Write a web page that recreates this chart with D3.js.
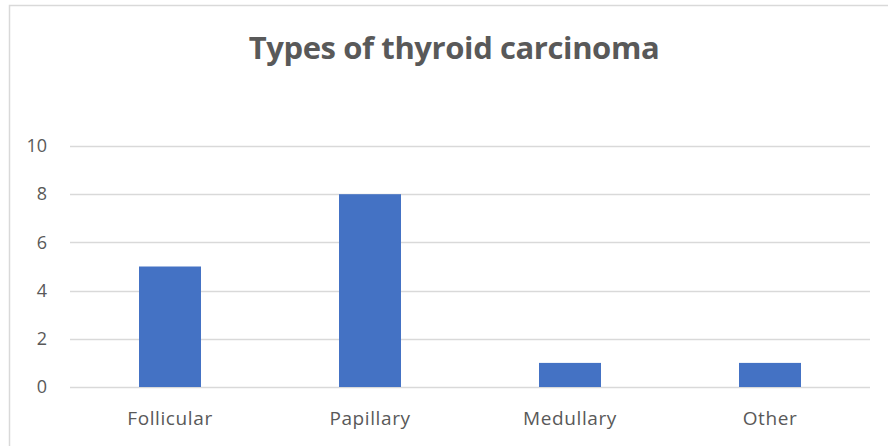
<!DOCTYPE html>
<html>
<head>
<meta charset="utf-8">
<script src="https://cdn.jsdelivr.net/npm/d3@7"></script>
<style>
  body { margin: 0; background: #fff; }
  svg { display: block; }
</style>
</head>
<body>
<div id="chart"></div>
<script>
var categories = ["Follicular", "Papillary", "Medullary", "Other"];
var counts = [5, 8, 1, 1];
var yTicks = [0, 2, 4, 6, 8, 10];
var title = "Types of thyroid carcinoma";

function init() {
    var w = 888;
    var h = 446;
    var font = "'Open Sans', 'Noto Sans', sans-serif";
    var textColor = "#595959";

    var svg = d3.select("#chart")
        .append("svg")
        .attr("width", w)
        .attr("height", h);

    svg.append("rect")
        .attr("width", w)
        .attr("height", h)
        .attr("fill", "#fff");

    // chart border (runs off the right and bottom edges)
    svg.append("rect")
        .attr("x", 9.5)
        .attr("y", 5.5)
        .attr("width", w + 10)
        .attr("height", h + 10)
        .attr("fill", "none")
        .attr("stroke", "#d9d9d9")
        .attr("stroke-width", 1.5);

    var xScale = d3.scaleBand()
        .domain(categories)
        .range([70, 870])
        .paddingInner(0.69)
        .paddingOuter(0.345);

    var yScale = d3.scaleLinear()
        .domain([0, 10])
        .range([387, 146]);

    // gridlines
    svg.append("g")
        .selectAll("line")
        .data(yTicks)
        .enter()
        .append("line")
        .attr("x1", 70)
        .attr("x2", 870)
        .attr("y1", function(d) { return Math.round(yScale(d)) + 0.5; })
        .attr("y2", function(d) { return Math.round(yScale(d)) + 0.5; })
        .attr("stroke", "#d9d9d9")
        .attr("stroke-width", 1.5);

    // bars
    svg.append("g")
        .selectAll("rect")
        .data(counts)
        .enter()
        .append("rect")
        .attr("x", function(d, i) { return xScale(categories[i]); })
        .attr("y", function(d) { return yScale(d); })
        .attr("width", xScale.bandwidth())
        .attr("height", function(d) { return yScale(0) - yScale(d); })
        .attr("fill", "#4472c4");

    // y axis labels
    var yAxis = d3.axisLeft(yScale)
        .tickValues(yTicks)
        .tickSize(0)
        .tickPadding(0);

    var yg = svg.append("g")
        .attr("transform", "translate(47,0)")
        .call(yAxis);
    yg.select(".domain").remove();
    yg.selectAll("text")
        .attr("fill", textColor)
        .style("font-family", font)
        .style("font-size", "18px");

    // x axis labels
    var xAxis = d3.axisBottom(xScale)
        .tickSize(0)
        .tickPadding(0);

    var xg = svg.append("g")
        .attr("transform", "translate(0,411)")
        .call(xAxis);
    xg.select(".domain").remove();
    xg.selectAll("text")
        .attr("fill", textColor)
        .style("font-family", font)
        .style("font-size", "19px")
        .style("letter-spacing", "0.6px");

    // title
    svg.append("text")
        .attr("x", 454)
        .attr("y", 59)
        .attr("text-anchor", "middle")
        .attr("fill", textColor)
        .style("font-family", font)
        .style("font-weight", "bold")
        .style("font-size", "31px")
        .style("letter-spacing", "-0.4px")
        .text(title);
}

window.onload = init;
</script>
</body>
</html>
